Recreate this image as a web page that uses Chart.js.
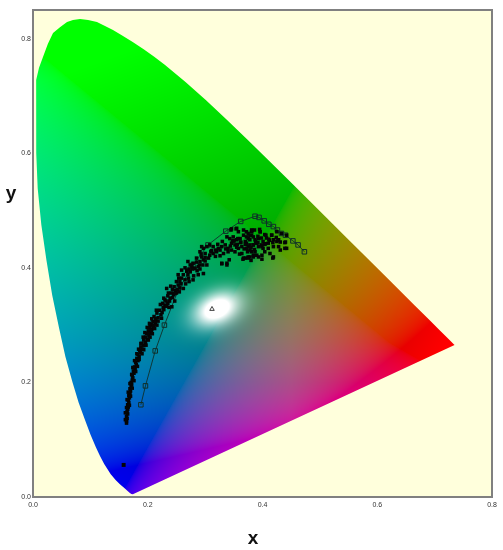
<!DOCTYPE html>
<html>
<head>
<meta charset="utf-8">
<title>Chromaticity diagram</title>
<script src="https://cdn.jsdelivr.net/npm/chart.js@4"></script>
<style>
  html, body { margin: 0; padding: 0; background: #fff; }
  /* the source picture is a slightly soft scan */
  canvas { display: block; filter: blur(0.4px); }
</style>
</head>
<body>
<canvas id="cie" width="503" height="550"></canvas>
<script>
// tick labels
const xTicks = [0, 0.2, 0.4, 0.6, 0.8];
const yTicks = [0, 0.2, 0.4, 0.6, 0.8];

// spectral locus outline, closed by the purple line
const locusX = [0.0820, 0.0697, 0.0593, 0.0470, 0.0349, 0.0260, 0.0174, 0.0105, 0.0055, 0.0055, 0.0058, 0.0082, 0.0145, 0.0235, 0.0335, 0.0454, 0.0565, 0.0687, 0.0795, 0.0913, 0.1005, 0.1096, 0.1170, 0.1241, 0.1355, 0.1440, 0.1510, 0.1566, 0.1611, 0.1644, 0.1689, 0.1714, 0.1741,
  0.7347, 0.7334, 0.7260, 0.7190, 0.7079, 0.6915, 0.6658, 0.6270, 0.6029, 0.5752, 0.5448, 0.5125, 0.4788, 0.4441, 0.4087, 0.3731, 0.3373, 0.3016, 0.2658, 0.2296, 0.2113, 0.1929, 0.1738, 0.1547, 0.1394, 0.1255, 0.1115, 0.0960, 0.0820];
const locusY = [0.8344, 0.8327, 0.8290, 0.8200, 0.8100, 0.7910, 0.7680, 0.7490, 0.7280, 0.6600, 0.6000, 0.5384, 0.4750, 0.4127, 0.3520, 0.2950, 0.2450, 0.2007, 0.1650, 0.1327, 0.1080, 0.0868, 0.0710, 0.0578, 0.0399, 0.0297, 0.0227, 0.0177, 0.0138, 0.0109, 0.0069, 0.0051, 0.0050,
  0.2653, 0.2666, 0.2740, 0.2809, 0.2920, 0.3083, 0.3340, 0.3725, 0.3965, 0.4242, 0.4544, 0.4866, 0.5202, 0.5547, 0.5896, 0.6245, 0.6589, 0.6923, 0.7243, 0.7543, 0.7683, 0.7816, 0.7942, 0.8059, 0.8150, 0.8220, 0.8290, 0.8327, 0.8344];

// open squares joined by a thin line
const curveX = [0.188, 0.196, 0.213, 0.229, 0.253, 0.279, 0.305, 0.336, 0.362, 0.387, 0.394, 0.403, 0.411, 0.419, 0.426, 0.433, 0.440, 0.453, 0.462, 0.473];
const curveY = [0.161, 0.194, 0.255, 0.300, 0.361, 0.405, 0.440, 0.464, 0.481, 0.490, 0.488, 0.482, 0.476, 0.472, 0.466, 0.460, 0.457, 0.447, 0.440, 0.428];

// white point triangle and the single solid square
const whiteX = [0.312];
const whiteY = [0.328];
const loneX = [0.158];
const loneY = [0.056];

// scattered samples
const cloudX = [
  0.163,0.163,0.164,0.163,0.165,0.164,0.165,0.166,0.165,0.167,0.166,0.168,0.167,0.169,0.170,0.169,0.171,0.172,0.171,0.173,0.174,0.173,0.176,0.175,0.178,0.177,0.180,0.179,0.183,0.181,0.185,0.183,0.187,0.186,0.190,0.188,0.193,0.190,0.196,0.193,0.199,0.196,0.202,0.198,0.205,0.201,0.207,0.204,0.210,0.206,0.213,0.209,
  0.201,0.206,0.210,0.204,0.213,0.218,0.211,0.216,0.223,0.224,0.221,0.227,0.230,0.235,0.230,0.237,0.242,0.239,0.235,0.241,0.233,0.248,0.245,0.250,0.253,0.246,0.256,0.250,0.259,0.262,0.256,0.265,0.271,0.270,0.259,0.279,0.274,0.265,0.282,0.291,0.277,0.297,0.288,0.253,
  0.225,0.228,0.233,0.238,0.243,0.247,0.252,0.254,0.262,0.268,0.272,0.243,0.218,0.214,0.226,0.232,
  0.268,0.274,0.270,0.282,0.279,0.288,0.291,0.285,0.294,0.297,0.303,0.306,0.300,0.308,0.291,0.297,0.303,0.308,0.314,0.294,0.314,0.320,0.329,0.338,0.323,0.329,0.335,0.340,0.346,0.352,0.346,0.352,0.332,0.358,0.364,0.355,0.361,0.367,0.349,0.343,0.338,0.372,0.367,0.375,0.381,0.384,0.370,0.378,0.384,0.384,0.375,0.364,0.370,0.358,0.381,0.340,0.346,0.355,0.367,
  0.381,0.375,0.372,0.381,0.396,0.404,0.407,0.416,0.425,0.433,0.442,0.439,0.442,0.428,0.419,0.410,0.401,0.393,0.387,0.378,0.372,0.384,0.393,0.401,0.410,0.419,0.428,0.431,0.419,0.399,0.404,0.387,0.378,0.372,0.375,0.384,0.393,0.399,0.390,0.378,0.413,0.425,
  0.366,0.375,0.390,0.399,0.418,0.439,0.440,0.427,0.416,0.406,0.396,0.382,0.354,0.345,0.329,0.338,0.342,
  0.388,0.392,0.378,0.370,0.362,0.355,0.348,0.398,0.405,0.412,0.326,0.318,0.311,0.300,0.293,0.285,0.278,0.326,0.357,0.350,
  0.161,0.161,0.163,0.168,0.164,0.170,0.166,0.173,0.169,0.176,0.172,0.179,0.174,0.182,0.177,0.185,0.181,0.190,0.184,0.193,0.188,0.197,0.192,0.201,0.195,0.204,0.199,0.208,0.203,0.212,0.207,0.216,
  0.215,0.222,0.228,0.236,0.240,0.255,0.247,0.258,0.266,0.272,0.280,0.286,0.290,0.296,0.300,0.310,0.318,0.322,0.330,0.336,0.344,0.350,0.356,0.362,0.368,0.374,0.380,0.386,0.392,0.398,0.404,0.411,0.418,0.424,0.431,0.380,0.360,0.386,0.395
];
const cloudY = [
  0.129,0.133,0.137,0.141,0.145,0.149,0.153,0.157,0.161,0.165,0.169,0.173,0.177,0.181,0.185,0.189,0.193,0.197,0.200,0.204,0.208,0.212,0.216,0.220,0.224,0.227,0.231,0.235,0.238,0.242,0.245,0.249,0.252,0.256,0.258,0.262,0.264,0.268,0.270,0.274,0.275,0.279,0.281,0.285,0.286,0.290,0.292,0.296,0.297,0.301,0.302,0.306,
  0.286,0.291,0.299,0.300,0.306,0.307,0.315,0.321,0.318,0.312,0.326,0.331,0.335,0.338,0.344,0.331,0.332,0.347,0.351,0.356,0.364,0.360,0.353,0.356,0.370,0.367,0.376,0.376,0.382,0.364,0.365,0.379,0.382,0.388,0.396,0.379,0.393,0.400,0.399,0.398,0.402,0.390,0.388,0.388,
  0.322,0.327,0.333,0.342,0.348,0.355,0.362,0.382,0.388,0.394,0.398,0.362,0.313,0.311,0.338,0.342,
  0.396,0.405,0.411,0.399,0.408,0.402,0.411,0.417,0.419,0.414,0.405,0.417,0.425,0.422,0.428,0.434,0.437,0.440,0.437,0.437,0.425,0.428,0.408,0.408,0.434,0.437,0.440,0.434,0.443,0.440,0.431,0.428,0.425,0.434,0.437,0.449,0.451,0.457,0.454,0.451,0.454,0.463,0.466,0.451,0.463,0.454,0.417,0.419,0.419,0.440,0.437,0.425,0.446,0.463,0.428,0.428,0.468,0.469,0.417,
  0.466,0.460,0.454,0.457,0.463,0.458,0.452,0.457,0.463,0.460,0.457,0.444,0.434,0.449,0.449,0.443,0.446,0.451,0.449,0.449,0.443,0.440,0.437,0.434,0.434,0.437,0.437,0.431,0.419,0.422,0.428,0.428,0.431,0.434,0.419,0.422,0.419,0.437,0.443,0.440,0.425,0.446,
  0.415,0.417,0.422,0.415,0.417,0.434,0.445,0.448,0.457,0.457,0.463,0.465,0.468,0.466,0.407,0.405,0.414,
  0.446,0.455,0.456,0.441,0.445,0.436,0.447,0.440,0.442,0.448,0.421,0.431,0.430,0.418,0.424,0.410,0.398,0.431,0.451,0.447,
  0.135,0.147,0.156,0.160,0.170,0.176,0.183,0.190,0.198,0.203,0.214,0.219,0.226,0.228,0.238,0.240,0.250,0.250,0.258,0.257,0.268,0.265,0.279,0.274,0.287,0.279,0.296,0.285,0.303,0.294,0.311,0.300,
  0.326,0.336,0.347,0.356,0.368,0.358,0.342,0.372,0.372,0.376,0.386,0.395,0.405,0.405,0.412,0.428,0.420,0.441,0.446,0.433,0.438,0.447,0.441,0.444,0.433,0.428,0.435,0.432,0.444,0.452,0.441,0.450,0.444,0.453,0.445,0.413,0.424,0.466,0.467
];

function toPoints(xs, ys) {
  return xs.map((x, i) => ({ x: x, y: ys[i] }));
}

function clamp01(v) {
  return Math.min(1, Math.max(0, v));
}

// colour of the diagram at a chromaticity: clamped channels with a gamma,
// plus the small white spot round the white point
function chromaColor(x, y) {
  const low = Math.max(0, 0.27 - y);
  const dim = Math.max(0, 0.3 - y);
  const r = Math.min(1, Math.sqrt(clamp01((1.786 * x - y - 0.268) / 0.75)) * (1 + 1.6 * Math.max(0, 0.2 - y)));
  // softer start than a plain square root, so no hard edge where green runs out
  const gLin = clamp01(0.1 - 0.45 * x + 1.25 * y - 0.7 * Math.max(0, x - 0.45) - 1.5 * dim * dim);
  const g = gLin > 0 ? (Math.sqrt(gLin + 0.01) - 0.1) / 0.905 : 0;
  const b = Math.sqrt(clamp01(0.9 - 0.95 * x - 1.15 * y + 0.5 * low));
  const dx = x - 0.32, dy = y - 0.329;
  const u = (dx * 0.91 + dy * 0.41) / 0.043;
  const v = (-dx * 0.41 + dy * 0.91) / 0.028;
  const w = Math.min(1, 1.3 * Math.exp(-(u * u + v * v)));
  return [r, g, b].map(c => 255 * (c * (1 - w) + w));
}

let gamutPattern = null;

function makeGamutPattern(chart) {
  const area = chart.chartArea;
  if (!area) return 'rgba(0,0,0,0)'; // not laid out yet
  if (gamutPattern) return gamutPattern;
  const xs = chart.scales.x, ys = chart.scales.y;
  const off = document.createElement('canvas');
  off.width = chart.width;
  off.height = chart.height;
  const octx = off.getContext('2d');
  const img = octx.createImageData(chart.width, chart.height);
  for (let py = Math.floor(area.top); py < area.bottom; py++) {
    for (let px = Math.floor(area.left); px < area.right; px++) {
      const c = chromaColor(xs.getValueForPixel(px), ys.getValueForPixel(py));
      const i = (py * chart.width + px) * 4;
      img.data[i] = c[0];
      img.data[i + 1] = c[1];
      img.data[i + 2] = c[2];
      img.data[i + 3] = 255;
    }
  }
  octx.putImageData(img, 0, 0);
  gamutPattern = chart.ctx.createPattern(off, 'no-repeat');
  return gamutPattern;
}

const framePlugin = {
  id: 'frame',
  beforeDraw(chart) {
    const { ctx, chartArea: a } = chart;
    ctx.save();
    ctx.fillStyle = '#ffffdc';
    ctx.fillRect(a.left, a.top, a.right - a.left, a.bottom - a.top);
    ctx.restore();
  },
  afterDraw(chart) {
    const { ctx, chartArea: a } = chart;
    ctx.save();
    ctx.strokeStyle = '#808080';
    ctx.lineWidth = 2;
    ctx.strokeRect(a.left, a.top, a.right - a.left, a.bottom - a.top);
    // axis titles sit off the plot centre and y stays upright
    ctx.fillStyle = '#111';
    ctx.font = 'bold 19px "Liberation Sans"';
    ctx.textAlign = 'center';
    ctx.textBaseline = 'middle';
    ctx.fillText('y', 11, 194);
    ctx.fillText('x', 253, 539);
    ctx.restore();
  }
};

new Chart(document.getElementById('cie'), {
  type: 'scatter',
  plugins: [framePlugin],
  data: {
    datasets: [
      {
        label: 'white point',
        data: toPoints(whiteX, whiteY),
        pointStyle: 'triangle',
        pointRadius: 2.6,
        pointBackgroundColor: 'rgba(0,0,0,0)',
        pointBorderColor: '#111',
        pointBorderWidth: 0.8
      },
      {
        label: 'samples',
        data: toPoints(cloudX, cloudY),
        pointStyle: 'rect',
        pointRadius: 2.5,
        pointBackgroundColor: '#050505',
        pointBorderWidth: 0
      },
      {
        label: 'lone',
        data: toPoints(loneX, loneY),
        pointStyle: 'rect',
        pointRadius: 2.8,
        pointBackgroundColor: '#050505',
        pointBorderWidth: 0
      },
      {
        label: 'curve',
        data: toPoints(curveX, curveY),
        showLine: true,
        borderColor: '#10302a',
        borderWidth: 0.9,
        pointStyle: 'rect',
        pointRadius: 3.2,
        pointBackgroundColor: 'rgba(0,0,0,0)',
        pointBorderColor: '#10302a',
        pointBorderWidth: 1
      },
      {
        label: 'locus',
        data: toPoints(locusX, locusY),
        showLine: true,
        fill: 'shape',
        borderWidth: 0,
        pointRadius: 0,
        backgroundColor: ctx => makeGamutPattern(ctx.chart)
      }
    ]
  },
  options: {
    responsive: false,
    animation: false,
    layout: { padding: { top: 10, right: 11, left: 0, bottom: 0 } },
    plugins: { legend: { display: false }, tooltip: { enabled: false } },
    scales: {
      x: {
        type: 'linear',
        min: 0,
        max: 0.8,
        afterFit: s => { s.height = 53; },
        afterBuildTicks: s => { s.ticks = xTicks.map(v => ({ value: v })); },
        grid: { display: false, tickLength: 0 },
        border: { display: false },
        ticks: {
          padding: 4,
          maxRotation: 0,
          autoSkip: false,
          font: { family: 'Liberation Sans', size: 7 },
          color: '#333',
          callback: v => v.toFixed(1)
        }
      },
      y: {
        type: 'linear',
        min: 0,
        max: 0.85,
        afterFit: s => { s.width = 33; },
        afterBuildTicks: s => { s.ticks = yTicks.map(v => ({ value: v })); },
        grid: { display: false, tickLength: 0 },
        border: { display: false },
        ticks: {
          padding: 2,
          autoSkip: false,
          font: { family: 'Liberation Sans', size: 7 },
          color: '#333',
          callback: v => v.toFixed(1)
        }
      }
    }
  }
});
</script>
</body>
</html>
